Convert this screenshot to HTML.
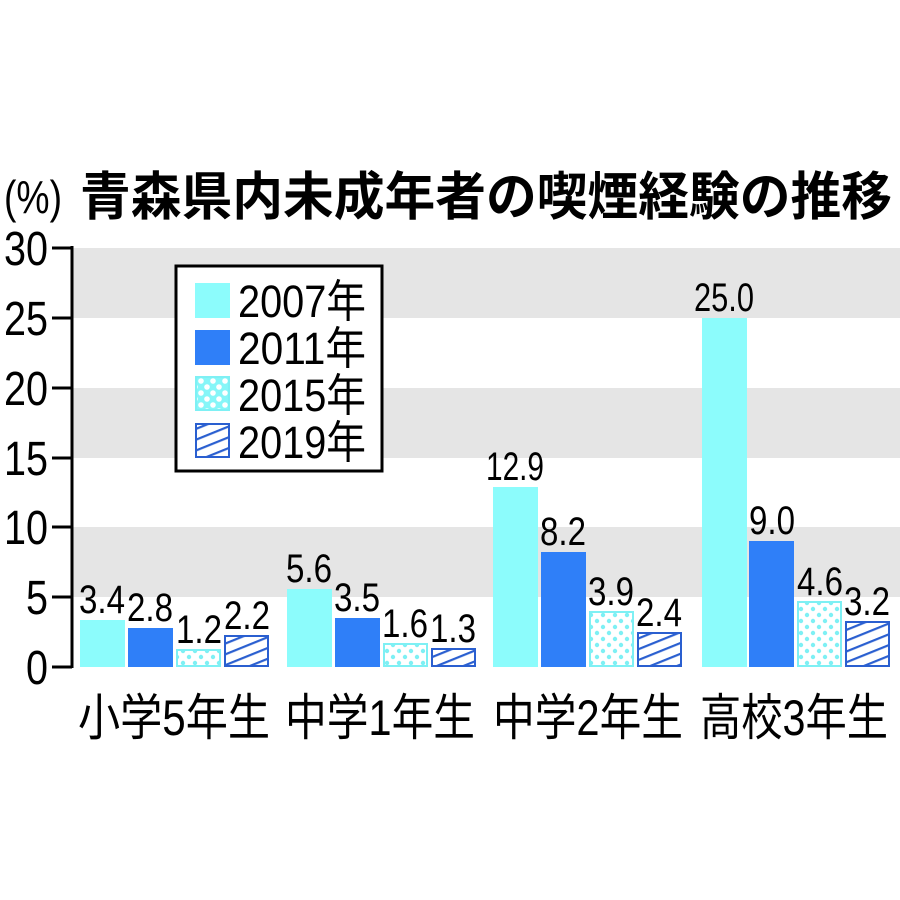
<!DOCTYPE html>
<html><head><meta charset="utf-8"><style>
html,body{margin:0;padding:0;background:#fff;}
svg{display:block;}
text{font-family:"Liberation Sans","Noto Sans CJK JP",sans-serif;fill:#000;}
</style></head><body>
<svg width="900" height="900" viewBox="0 0 900 900" xmlns="http://www.w3.org/2000/svg">
<defs>
<pattern id="dots" width="12" height="12" patternUnits="userSpaceOnUse">
<rect width="12" height="12" fill="#fff"/>
<circle cx="3" cy="3" r="2.2" fill="#7ef0f4"/>
<circle cx="9" cy="9" r="2.2" fill="#7ef0f4"/>
</pattern>
<pattern id="dotsL" width="12" height="12" patternUnits="userSpaceOnUse">
<rect width="12" height="12" fill="#86f6f8"/>
<circle cx="3" cy="3" r="2.8" fill="#fff"/>
<circle cx="9" cy="9" r="2.8" fill="#fff"/>
</pattern>
<pattern id="hatch" width="10" height="10" patternUnits="userSpaceOnUse" patternTransform="rotate(-22)">
<rect width="10" height="10" fill="#fff"/>
<rect x="0" y="0" width="10" height="2.2" fill="#2a5fd0"/>
</pattern>
</defs>

<rect x="72" y="248" width="828" height="70" fill="#e5e5e5"/>
<rect x="72" y="388" width="828" height="70" fill="#e5e5e5"/>
<rect x="72" y="527" width="828" height="70" fill="#e5e5e5"/>

<line x1="72" y1="246" x2="72" y2="668" stroke="#000" stroke-width="3"/>
<g stroke="#000" stroke-width="3">
<line x1="52" y1="248" x2="72" y2="248"/><line x1="52" y1="318" x2="72" y2="318"/>
<line x1="52" y1="388" x2="72" y2="388"/><line x1="52" y1="458" x2="72" y2="458"/>
<line x1="52" y1="527" x2="72" y2="527"/><line x1="52" y1="597" x2="72" y2="597"/>
<line x1="52" y1="667" x2="72" y2="667"/>
</g>
<g font-size="48" text-anchor="end">
<text x="48" y="265" textLength="44" lengthAdjust="spacingAndGlyphs">30</text>
<text x="48" y="335" textLength="44" lengthAdjust="spacingAndGlyphs">25</text>
<text x="48" y="405" textLength="44" lengthAdjust="spacingAndGlyphs">20</text>
<text x="48" y="475" textLength="44" lengthAdjust="spacingAndGlyphs">15</text>
<text x="48" y="544" textLength="44" lengthAdjust="spacingAndGlyphs">10</text>
<text x="48" y="614" textLength="22" lengthAdjust="spacingAndGlyphs">5</text>
<text x="48" y="684" textLength="22" lengthAdjust="spacingAndGlyphs">0</text>
</g>

<text x="4" y="213" font-size="46" textLength="58" lengthAdjust="spacingAndGlyphs">(%)</text>
<text x="80" y="215" font-size="52" font-weight="bold" textLength="812" lengthAdjust="spacingAndGlyphs">青森県内未成年者の喫煙経験の推移</text>

<g>
<rect x="80" y="620" width="45" height="47" fill="#8cfcfc"/>
<rect x="128" y="628" width="45" height="39" fill="#2f7ff8"/>
<rect x="177" y="650" width="43" height="16" fill="url(#dots)" stroke="#7ef0f4" stroke-width="2"/>
<rect x="225" y="636" width="43" height="30" fill="url(#hatch)" stroke="#2a5fd0" stroke-width="2"/>

<rect x="287" y="589" width="45" height="78" fill="#8cfcfc"/>
<rect x="335" y="618" width="45" height="49" fill="#2f7ff8"/>
<rect x="384" y="644" width="43" height="22" fill="url(#dots)" stroke="#7ef0f4" stroke-width="2"/>
<rect x="432" y="649" width="43" height="17" fill="url(#hatch)" stroke="#2a5fd0" stroke-width="2"/>

<rect x="493" y="487" width="45" height="180" fill="#8cfcfc"/>
<rect x="541" y="552" width="45" height="115" fill="#2f7ff8"/>
<rect x="590" y="612" width="43" height="54" fill="url(#dots)" stroke="#7ef0f4" stroke-width="2"/>
<rect x="638" y="633" width="43" height="33" fill="url(#hatch)" stroke="#2a5fd0" stroke-width="2"/>

<rect x="702" y="318" width="45" height="349" fill="#8cfcfc"/>
<rect x="749" y="541" width="45" height="126" fill="#2f7ff8"/>
<rect x="798" y="602" width="43" height="64" fill="url(#dots)" stroke="#7ef0f4" stroke-width="2"/>
<rect x="846" y="622" width="43" height="44" fill="url(#hatch)" stroke="#2a5fd0" stroke-width="2"/>
</g>

<g font-size="40" text-anchor="middle">
<text x="102" y="613" textLength="46" lengthAdjust="spacingAndGlyphs">3.4</text>
<text x="150" y="621" textLength="46" lengthAdjust="spacingAndGlyphs">2.8</text>
<text x="199" y="643" textLength="46" lengthAdjust="spacingAndGlyphs">1.2</text>
<text x="247" y="629" textLength="46" lengthAdjust="spacingAndGlyphs">2.2</text>

<text x="309" y="582" textLength="46" lengthAdjust="spacingAndGlyphs">5.6</text>
<text x="357" y="611" textLength="46" lengthAdjust="spacingAndGlyphs">3.5</text>
<text x="405" y="637" textLength="46" lengthAdjust="spacingAndGlyphs">1.6</text>
<text x="453" y="642" textLength="46" lengthAdjust="spacingAndGlyphs">1.3</text>

<text x="515" y="480" textLength="58" lengthAdjust="spacingAndGlyphs">12.9</text>
<text x="563" y="545" textLength="46" lengthAdjust="spacingAndGlyphs">8.2</text>
<text x="611" y="605" textLength="46" lengthAdjust="spacingAndGlyphs">3.9</text>
<text x="659" y="626" textLength="46" lengthAdjust="spacingAndGlyphs">2.4</text>

<text x="724" y="311" textLength="60" lengthAdjust="spacingAndGlyphs">25.0</text>
<text x="772" y="534" textLength="46" lengthAdjust="spacingAndGlyphs">9.0</text>
<text x="820" y="595" textLength="46" lengthAdjust="spacingAndGlyphs">4.6</text>
<text x="867" y="615" textLength="46" lengthAdjust="spacingAndGlyphs">3.2</text>
</g>

<g font-size="50">
<text x="78" y="735" textLength="192" lengthAdjust="spacingAndGlyphs">小学5年生</text>
<text x="285" y="735" textLength="190" lengthAdjust="spacingAndGlyphs">中学1年生</text>
<text x="493" y="735" textLength="190" lengthAdjust="spacingAndGlyphs">中学2年生</text>
<text x="700" y="735" textLength="188" lengthAdjust="spacingAndGlyphs">高校3年生</text>
</g>

<rect x="176" y="266" width="206" height="205" fill="#fff" stroke="#000" stroke-width="3"/>
<rect x="195" y="283" width="35" height="35" fill="#8cfcfc"/>
<rect x="195" y="330" width="35" height="35" fill="#2f7ff8"/>
<rect x="196" y="377" width="33" height="33" fill="url(#dotsL)" stroke="#7ef0f4" stroke-width="2"/>
<rect x="196" y="424" width="33" height="33" fill="url(#hatch)" stroke="#2a5fd0" stroke-width="2"/>
<g font-size="45">
<text x="238" y="317" textLength="128" lengthAdjust="spacingAndGlyphs">2007年</text>
<text x="238" y="364" textLength="128" lengthAdjust="spacingAndGlyphs">2011年</text>
<text x="238" y="411" textLength="128" lengthAdjust="spacingAndGlyphs">2015年</text>
<text x="238" y="458" textLength="128" lengthAdjust="spacingAndGlyphs">2019年</text>
</g>
</svg>
</body></html>
